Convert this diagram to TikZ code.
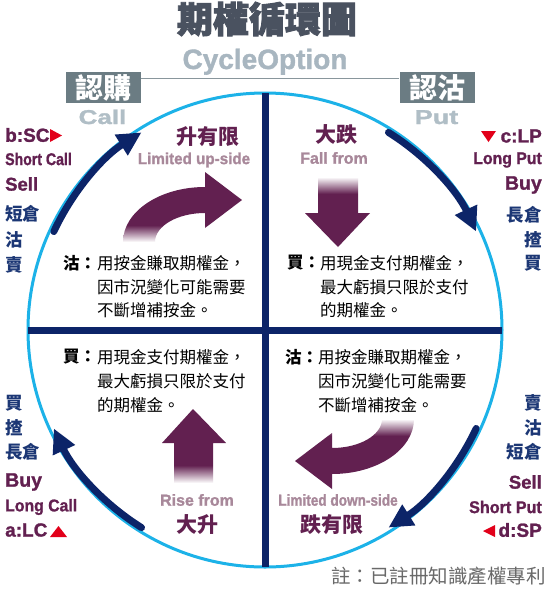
\documentclass[tikz,border=0pt]{standalone}
\usepackage{fontspec}
\usepackage{graphicx}
\setmainfont{Liberation Sans}
\newfontfamily\lat{Liberation Sans}[BoldFeatures={FakeBold=1.3}]
\newfontfamily\cjk{Noto Sans CJK TC}
\newfontfamily\cjkt{Noto Sans CJK TC}[BoldFeatures={FakeBold=2.5}]
\usetikzlibrary{arrows.meta}
\definecolor{navyc}{RGB}{12,36,104}
\definecolor{cyanc}{RGB}{28,178,232}
\definecolor{plumc}{RGB}{98,32,80}
\definecolor{lplum}{RGB}{168,136,154}
\definecolor{boxg}{RGB}{107,124,131}
\definecolor{cpg}{RGB}{176,190,198}
\definecolor{cog}{RGB}{168,182,192}
\definecolor{titleg}{RGB}{74,82,96}
\definecolor{sideblue}{RGB}{28,55,117}
\definecolor{redc}{RGB}{226,0,26}
\definecolor{noteg}{RGB}{105,105,105}
\pgfdeclareverticalshading{fadebottom}{100bp}{color(0bp)=(white); color(25bp)=(white); color(37bp)=(plumc); color(100bp)=(plumc)}
\pgfdeclareverticalshading{fadetop}{100bp}{color(0bp)=(plumc); color(63bp)=(plumc); color(75bp)=(white); color(100bp)=(white)}
\tikzset{
  body/.style={anchor=west, inner sep=0pt, text=black, font=\cjk\fontsize{16.5}{18}\selectfont},
  bodyhead/.style={anchor=west, inner sep=0pt, text=black, font=\cjk\bfseries\fontsize{16.5}{18}\selectfont},
  sidecjkL/.style={anchor=west, inner sep=0pt, text=sideblue, font=\cjk\bfseries\fontsize{17.5}{19}\selectfont},
  sidecjkR/.style={anchor=east, inner sep=0pt, text=sideblue, font=\cjk\bfseries\fontsize{17.5}{19}\selectfont},
  sidelatL/.style={anchor=west, inner sep=0pt, text=plumc, font=\lat\bfseries\fontsize{#1}{20}\selectfont},
  sidelatR/.style={anchor=east, inner sep=0pt, text=plumc, font=\lat\bfseries\fontsize{#1}{20}\selectfont},
  qhead/.style={inner sep=0pt, text=plumc, font=\cjk\bfseries\fontsize{21}{23}\selectfont},
  qsub/.style={inner sep=0pt, text=lplum, font=\lat\bfseries\fontsize{16}{18}\selectfont},
  navyarc/.style={draw=navyc, line width=7pt, line cap=round, -{Triangle[length=24pt,width=23pt]}},
  tagbox/.style={fill=boxg, text=white, inner sep=0pt, minimum width=75pt, minimum height=31pt, font=\cjk\bfseries\fontsize{28}{30}\selectfont},
  tagsub/.style={anchor=base, inner sep=0pt, text=cpg, font=\lat\bfseries\fontsize{20}{22}\selectfont},
}
\begin{document}
\begin{tikzpicture}[x=1pt,y=-1pt]
\useasboundingbox[fill=white] (0,0) rectangle (550,590);

% title
\node[inner sep=0pt, text=titleg, font=\cjkt\bfseries\fontsize{36}{38}\selectfont] (title) at (267,19) {期權循環圖};
\node[anchor=base, inner sep=0pt, text=cog, font=\lat\bfseries\fontsize{28}{30}\selectfont] (cyc) at (265,69) {CycleOption};

% tag boxes
\node[tagbox] (call) at (103,87.5) {認購};
\node[tagbox] (put) at (437,87.5) {認沽};
\draw[draw=boxg!80, line width=1pt] (call.east |- 0,78) -- (put.west |- 0,78);
\node[tagsub] (calltxt) at (102.5,124) {\scalebox{1.3}[1]{Call}};
\node[tagsub] (puttxt) at (436.5,124) {\scalebox{1.35}[1]{Put}};

% circle and cross
\coordinate (O) at (265,330);
\coordinate (vt) at (265,93);
\coordinate (vb) at (265,567);
\coordinate (hl) at (28,330);
\coordinate (hr) at (502,330);
\draw[cyanc, line width=3pt] (O) circle[radius=237];
\draw[navyc, line width=7pt] (vt) -- (vb);
\draw[navyc, line width=7pt] (hl) -- (hr);

% cycle arrows
\draw[navyarc] ([shift={(-155:233)}]O) arc[start angle=-155, end angle=-122, radius=233];
\draw[navyarc] ([shift={(-58:233)}]O) arc[start angle=-58, end angle=-25, radius=233];
\draw[navyarc] ([shift={(25:233)}]O) arc[start angle=25, end angle=58, radius=233];
\draw[navyarc] ([shift={(122:233)}]O) arc[start angle=122, end angle=155, radius=233];

% purple arrows
\begin{scope}[shift={(205,200)}]
\shade[shading=fadebottom] (-82,42) arc[start angle=180, end angle=270, x radius=82, y radius=55]
  -- (0,-28) -- (37,0) -- (0,28) -- (0,13)
  arc[start angle=270, end angle=180, x radius=50, y radius=29] -- cycle;
\end{scope}
\begin{scope}[shift={(332,461)}, rotate=180]
\shade[shading=fadetop] (-82,42) arc[start angle=180, end angle=270, x radius=82, y radius=55]
  -- (0,-28) -- (37,0) -- (0,28) -- (0,13)
  arc[start angle=270, end angle=180, x radius=50, y radius=29] -- cycle;
\end{scope}
\shade[shading=fadetop] (318,177) -- (358,177) -- (358,213) -- (370,213) -- (338,247) -- (305,213) -- (318,213) -- cycle;
\shade[shading=fadebottom] (174,483) -- (174,443) -- (162,443) -- (193,409) -- (226,443) -- (213,443) -- (213,483) -- cycle;

% quadrant headings
\node[qhead] (ulh) at (208,137) {升有限};
\node[qsub] (uls) at (194,160) {\scalebox{0.95}[1]{Limited up-side}};
\node[qhead] (urh) at (336,135) {大跌};
\node[qsub] (urs) at (334,158) {Fall from};
\node[qsub] (lls) at (197,500) {Rise from};
\node[qhead] (llh) at (197,525) {大升};
\node[qsub] (lrs) at (338,500) {\scalebox{0.85}[1]{Limited down-side}};
\node[qhead] (lrh) at (332,525) {跌有限};

% quadrant texts
\node[bodyhead] (ult0) at (63,263) {沽：};
\node[body] (ult1) at (97,263) {用按金賺取期權金，};
\node[body] (ult2) at (97,287) {因市況變化可能需要};
\node[body] (ult3) at (97,310) {不斷增補按金。};

\node[bodyhead] (urt0) at (287,263) {買：};
\node[body] (urt1) at (320,263) {用現金支付期權金，};
\node[body] (urt2) at (320,287) {最大虧損只限於支付};
\node[body] (urt3) at (320,310) {的期權金。};

\node[bodyhead] (llt0) at (63,357) {買：};
\node[body] (llt1) at (97,357) {用現金支付期權金，};
\node[body] (llt2) at (97,381) {最大虧損只限於支付};
\node[body] (llt3) at (97,405) {的期權金。};

\node[bodyhead] (lrt0) at (285,357) {沽：};
\node[body] (lrt1) at (318,357) {用按金賺取期權金，};
\node[body] (lrt2) at (318,381) {因市況變化可能需要};
\node[body] (lrt3) at (318,405) {不斷增補按金。};

% left upper column
\node[sidelatL=19] (bsc) at (5,135) {b:SC};
\fill[redc] (50,129) -- (62,135.5) -- (50,142) -- cycle;
\node[sidelatL=17] (shortcall) at (5,159) {\scalebox{0.83}[1]{Short Call}};
\node[sidelatL=18.5] (sellL) at (5,184) {Sell};
\node[sidecjkL] (duanL) at (5,214) {短倉};
\node[sidecjkL] (guL) at (5,240) {沽};
\node[sidecjkL] (maiL) at (5,265) {賣};

% right upper column
\node[sidelatR=19] (clp) at (542,136) {c:LP};
\fill[redc] (481,131) -- (496,131) -- (488.5,142) -- cycle;
\node[sidelatR=17] (longput) at (542,160) {\scalebox{0.93}[1]{Long Put}};
\node[sidelatR=19.5] (buyR) at (542,185) {Buy};
\node[sidecjkR] (changR) at (542,215) {長倉};
\node[sidecjkR] (zhaR) at (542,240) {揸};
\node[sidecjkR] (buyRc) at (542,263) {買};

% left lower column
\node[sidecjkL] (buyLc) at (5,403) {買};
\node[sidecjkL] (zhaL) at (5,428) {揸};
\node[sidecjkL] (changL) at (5,452) {長倉};
\node[sidelatL=19.5] (buyL) at (5,482) {Buy};
\node[sidelatL=17] (longcall) at (5,507) {\scalebox{0.93}[1]{Long Call}};
\node[sidelatL=19] (alc) at (5,530) {a:LC};
\fill[redc] (50,537) -- (58.5,526) -- (67,537) -- cycle;

% right lower column
\node[sidecjkR] (maiR) at (542,403) {賣};
\node[sidecjkR] (guR) at (542,428) {沽};
\node[sidecjkR] (duanR) at (542,452) {短倉};
\node[sidelatR=18.5] (sellR) at (542,482) {Sell};
\node[sidelatR=17] (shortput) at (542,507) {\scalebox{0.95}[1]{Short Put}};
\node[sidelatR=19] (dsp) at (542,530) {d:SP};
\fill[redc] (495,525) -- (483,531) -- (495,537) -- cycle;

% note
\node[anchor=east, inner sep=0pt, text=noteg, font=\cjk\fontsize{19.5}{21}\selectfont] (note) at (546,576) {註：已註冊知識產權專利};
\end{tikzpicture}
\end{document}
